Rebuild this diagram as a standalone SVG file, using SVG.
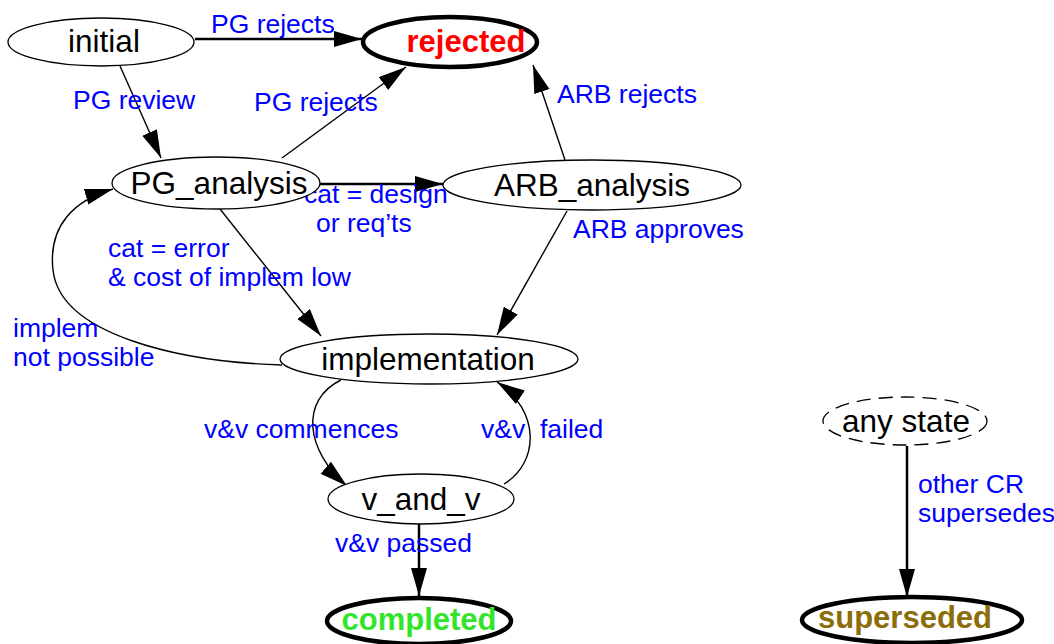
<svg xmlns="http://www.w3.org/2000/svg" width="1054" height="644" viewBox="0 0 1054 644">
<style>
.node{fill:#fff;stroke:#000;stroke-width:1.3}
.final{fill:#fff;stroke:#000;stroke-width:4.5}
.dash{fill:#fff;stroke:#000;stroke-width:1.3;stroke-dasharray:14 8}
.nt{font-family:"Liberation Sans",Arial,sans-serif;font-size:31.5px;fill:#000;text-anchor:middle}
.bt{font-family:"Liberation Sans",Arial,sans-serif;font-size:31px;font-weight:bold;text-anchor:middle}
.lbl{font-family:"Liberation Sans",Arial,sans-serif;font-size:26.5px;fill:#0000ff;white-space:pre}
.e{fill:none;stroke:#000;stroke-width:1.4;marker-end:url(#ah)}
.et{fill:none;stroke:#000;stroke-width:2.5;marker-end:url(#ah)}
</style>
<defs>
<marker id="ah" markerUnits="userSpaceOnUse" markerWidth="30" markerHeight="18" refX="28" refY="8" orient="auto">
<path d="M0,0 L28,8 L0,16 z" fill="#000"/>
</marker>
</defs>
<rect width="1054" height="644" fill="#fff"/>
<g id="connectors">
<path class="et" d="M195,39 L362,39"/>
<path class="e" d="M120,66 L161,158"/>
<path class="e" d="M282,158 L406,67"/>
<path class="et" d="M320,184 L443,184"/>
<path class="e" d="M565,160 L533,65"/>
<path class="e" d="M220,209 L321,336"/>
<path class="e" d="M567,211 L497,335"/>
<path class="e" d="M282,365 C180,362 60,335 53,270 C48,225 75,200 113,189"/>
<path class="e" d="M341,380 C300,400 305,450 347,486"/>
<path class="e" d="M504,484 C540,462 540,410 497,382"/>
<path class="et" d="M419,524 L419,596"/>
<path class="et" d="M907,446 L907,597"/>
<text class="lbl" x="211" y="33">PG rejects</text>
<text class="lbl" x="73" y="109">PG review</text>
<text class="lbl" x="254" y="111">PG rejects</text>
<text class="lbl" x="557" y="103">ARB rejects</text>
<text class="lbl" x="304" y="203">cat = design</text>
<text class="lbl" x="316" y="232">or req’ts</text>
<text class="lbl" x="573" y="238">ARB approves</text>
<text class="lbl" x="108" y="257">cat = error</text>
<text class="lbl" x="108" y="286">&amp; cost of implem low</text>
<text class="lbl" x="13" y="337">implem</text>
<text class="lbl" x="13" y="366">not possible</text>
<text class="lbl" x="204" y="438">v&amp;v commences</text>
<text class="lbl" x="481" y="438">v&amp;v  failed</text>
<text class="lbl" x="335" y="552">v&amp;v passed</text>
<text class="lbl" x="918" y="493">other CR</text>
<text class="lbl" x="918" y="522">supersedes</text>
</g>
<g id="initial"><ellipse class="node" cx="101" cy="42" rx="93" ry="24"/><text class="nt" x="104" y="52">initial</text></g>
<g id="rejected"><ellipse class="final" cx="450" cy="42" rx="87" ry="25"/><text class="bt" x="466" y="52" fill="#ff0000">rejected</text></g>
<g id="PG_analysis"><ellipse class="node" cx="216" cy="183" rx="104" ry="26"/><text class="nt" x="219" y="194">PG_analysis</text></g>
<g id="ARB_analysis"><ellipse class="node" cx="592" cy="185" rx="149" ry="25"/><text class="nt" x="592" y="196">ARB_analysis</text></g>
<g id="implementation"><ellipse class="node" cx="429" cy="359" rx="149" ry="25"/><text class="nt" x="428" y="370">implementation</text></g>
<g id="v_and_v"><ellipse class="node" cx="421" cy="499" rx="93" ry="25"/><text class="nt" x="421" y="510">v_and_v</text></g>
<g id="completed"><ellipse class="final" cx="419" cy="621" rx="92" ry="23"/><text class="bt" x="419" y="630" fill="#33e52a">completed</text></g>
<g id="any_state"><ellipse class="dash" cx="905" cy="421" rx="82" ry="24"/><text class="nt" x="906" y="432">any state</text></g>
<g id="superseded"><ellipse class="final" cx="912" cy="620" rx="110" ry="23"/><text class="bt" x="905" y="628" fill="#8c6d0a">superseded</text></g>
</svg>
